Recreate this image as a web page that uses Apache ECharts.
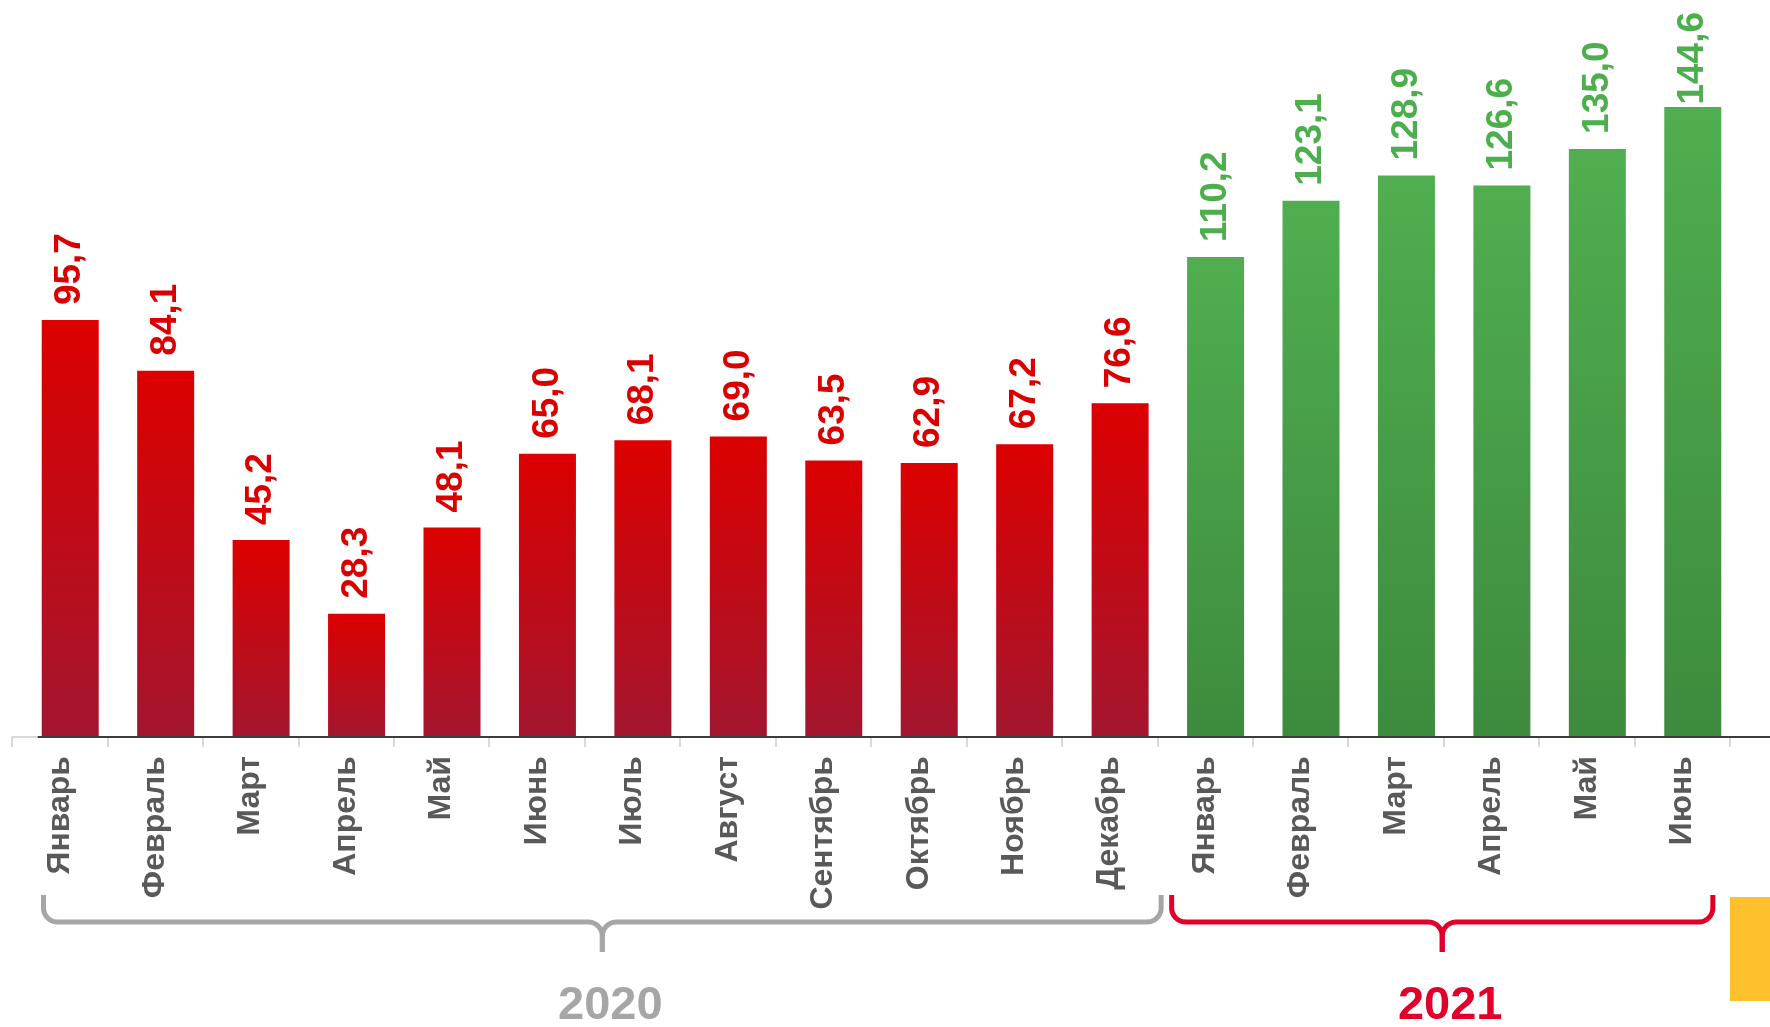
<!DOCTYPE html>
<html>
<head>
<meta charset="utf-8">
<script src="https://cdn.jsdelivr.net/npm/echarts@6/dist/echarts.min.js"></script>
<style>
html,body{margin:0;padding:0;background:#fff;}
#chart{width:1770px;height:1027px;}
</style>
</head>
<body>
<div id="chart"></div>
<script>
// ---- data ----
const months2020 = ['Январь','Февраль','Март','Апрель','Май','Июнь','Июль','Август','Сентябрь','Октябрь','Ноябрь','Декабрь'];
const months2021 = ['Январь','Февраль','Март','Апрель','Май','Июнь'];
const values2020 = [95.7, 84.1, 45.2, 28.3, 48.1, 65.0, 68.1, 69.0, 63.5, 62.9, 67.2, 76.6];
const values2021 = [110.2, 123.1, 128.9, 126.6, 135.0, 144.6];
const years = ['2020', '2021'];

// ---- build ----
const categories = months2020.concat(months2021);
const n20 = values2020.length, n21 = values2021.length;

const FONT = '"Liberation Sans", Arial, Helvetica, sans-serif';
const RED_TEXT = '#da0000';
const GREEN_TEXT = '#4cae4c';
const BAR_W = 57;
const LABEL_SIZE = 37;
const LABEL_DIST = 15;
const TOP_MARGIN = 12;

const fmtVal = v => Number(v).toFixed(1).replace('.', ',');
const fmt = p => fmtVal(p.value);

function grad(top, bottom) {
  return new echarts.graphic.LinearGradient(0, 0, 0, 1, [
    {offset: 0, color: top}, {offset: 1, color: bottom}
  ]);
}

function labelCfg(color) {
  return {
    show: true, position: 'top', rotate: 90, align: 'left', verticalAlign: 'middle',
    distance: LABEL_DIST, color: color, fontSize: LABEL_SIZE, fontWeight: 'bold', fontFamily: FONT,
    formatter: fmt
  };
}

const chart = echarts.init(document.getElementById('chart'), null, {renderer: 'canvas'});

const option = {
  animation: false,
  backgroundColor: '#ffffff',
  grid: [
    {left: 12, right: 40, top: 40, bottom: 290},
    {left: 22.5, right: 29.5, top: 40, bottom: 290}
  ],
  xAxis: [
    {
      type: 'category', gridIndex: 0, data: categories, boundaryGap: true,
      axisLine: {show: true, lineStyle: {color: '#d9d9d9', width: 2}},
      axisTick: {show: true, interval: 0, length: 10, lineStyle: {color: '#d9d9d9', width: 2}},
      axisLabel: {
        show: true, interval: 0, rotate: 90, margin: 19,
        color: '#595959', fontSize: 32, fontWeight: 'bold', fontFamily: FONT
      },
      splitLine: {show: false}
    },
    {
      type: 'category', gridIndex: 1, data: categories, boundaryGap: true, show: false
    }
  ],
  yAxis: [
    {type: 'value', gridIndex: 0, min: 0, max: 160, show: false, splitLine: {show: false}},
    {type: 'value', gridIndex: 1, min: 0, max: 160, show: false, splitLine: {show: false}}
  ],
  series: [
    {
      name: years[0], type: 'bar', xAxisIndex: 1, yAxisIndex: 1,
      data: values2020.concat(new Array(n21).fill('-')), barWidth: BAR_W, barGap: '-100%',
      itemStyle: {color: grad('#dc0000', '#a3162f')},
      label: labelCfg(RED_TEXT)
    },
    {
      name: years[1], type: 'bar', xAxisIndex: 1, yAxisIndex: 1,
      data: new Array(n20).fill('-').concat(values2021), barWidth: BAR_W, barGap: '-100%',
      itemStyle: {color: grad('#50ae50', '#3d8b3d')},
      label: labelCfg(GREEN_TEXT)
    }
  ]
};

chart.setOption(option);

// ---- keep value labels inside the top edge (shrink their distance if needed) ----
const mctx = document.createElement('canvas').getContext('2d');
mctx.font = 'bold ' + LABEL_SIZE + 'px ' + FONT;
function item(v) {
  if (v === '-') return '-';
  const topPx = chart.convertToPixel({yAxisIndex: 1}, v);
  const w = mctx.measureText(fmtVal(v)).width;
  const start = topPx - LABEL_DIST - w;
  if (start < TOP_MARGIN) {
    return {value: v, label: {distance: Math.max(2, LABEL_DIST - (TOP_MARGIN - start))}};
  }
  return v;
}
chart.setOption({
  series: [
    {data: values2020.concat(new Array(n21).fill('-')).map(item)},
    {data: new Array(n20).fill('-').concat(values2021).map(item)}
  ]
});

// ---- annotations derived from the axes ----
const px0 = i => chart.convertToPixel({xAxisIndex: 0}, i);
const px1 = i => chart.convertToPixel({xAxisIndex: 1}, i);
const band = px0(1) - px0(0);
const edge = i => px0(i) - band / 2;
const yBase = chart.convertToPixel({yAxisIndex: 1}, 0);

function arc(cx, cy, r, a0, a1, steps) {
  const pts = [];
  for (let k = 0; k <= steps; k++) {
    const a = a0 + (a1 - a0) * k / steps;
    pts.push([cx + r * Math.cos(a), cy + r * Math.sin(a)]);
  }
  return pts;
}

function bracePolylines(x1, x2, yTop, yH, yTip, r) {
  const cx = (x1 + x2) / 2;
  const PI = Math.PI;
  let left = [[x1, yTop]];
  left = left.concat(arc(x1 + r, yH - r, r, PI, PI / 2, 10));
  left = left.concat(arc(cx - r, yH + r, r, -PI / 2, 0, 10));
  left.push([cx, yTip]);
  let right = [[x2, yTop]];
  right = right.concat(arc(x2 - r, yH - r, r, 0, PI / 2, 10));
  right = right.concat(arc(cx + r, yH + r, r, -PI / 2, -PI, 10));
  right.push([cx, yTip]);
  return [left, right];
}

const groups = [
  {x1: edge(0) + 0.33 * band, x2: edge(n20) + 0.04 * band, color: '#a6a6a6', year: years[0]},
  {x1: edge(n20) + 0.15 * band, x2: edge(n20 + n21) - 0.18 * band, color: '#e2002a', year: years[1]}
];

const graphics = [];
graphics.push({
  type: 'line', z: 10,
  shape: {x1: px1(0) - BAR_W / 2 - 4, y1: yBase, x2: 1770, y2: yBase},
  style: {stroke: '#3c3c3c', lineWidth: 2}
});
groups.forEach(g => {
  bracePolylines(g.x1, g.x2, 895, 922, 952, 14).forEach(pts => {
    graphics.push({
      type: 'polyline', z: 10,
      shape: {points: pts},
      style: {stroke: g.color, lineWidth: 5, fill: null, lineJoin: 'round'}
    });
  });
  graphics.push({
    type: 'text', z: 10, x: (g.x1 + g.x2) / 2 + 8, y: 1006,
    style: {text: g.year, fill: g.color, fontSize: 47, fontWeight: 'bold', fontFamily: FONT,
            align: 'center', verticalAlign: 'middle'}
  });
});
graphics.push({
  type: 'rect', z: 10,
  shape: {x: 1730, y: 897, width: 40, height: 104},
  style: {fill: '#fdc12e'}
});

chart.setOption({graphic: graphics});
</script>
</body>
</html>
